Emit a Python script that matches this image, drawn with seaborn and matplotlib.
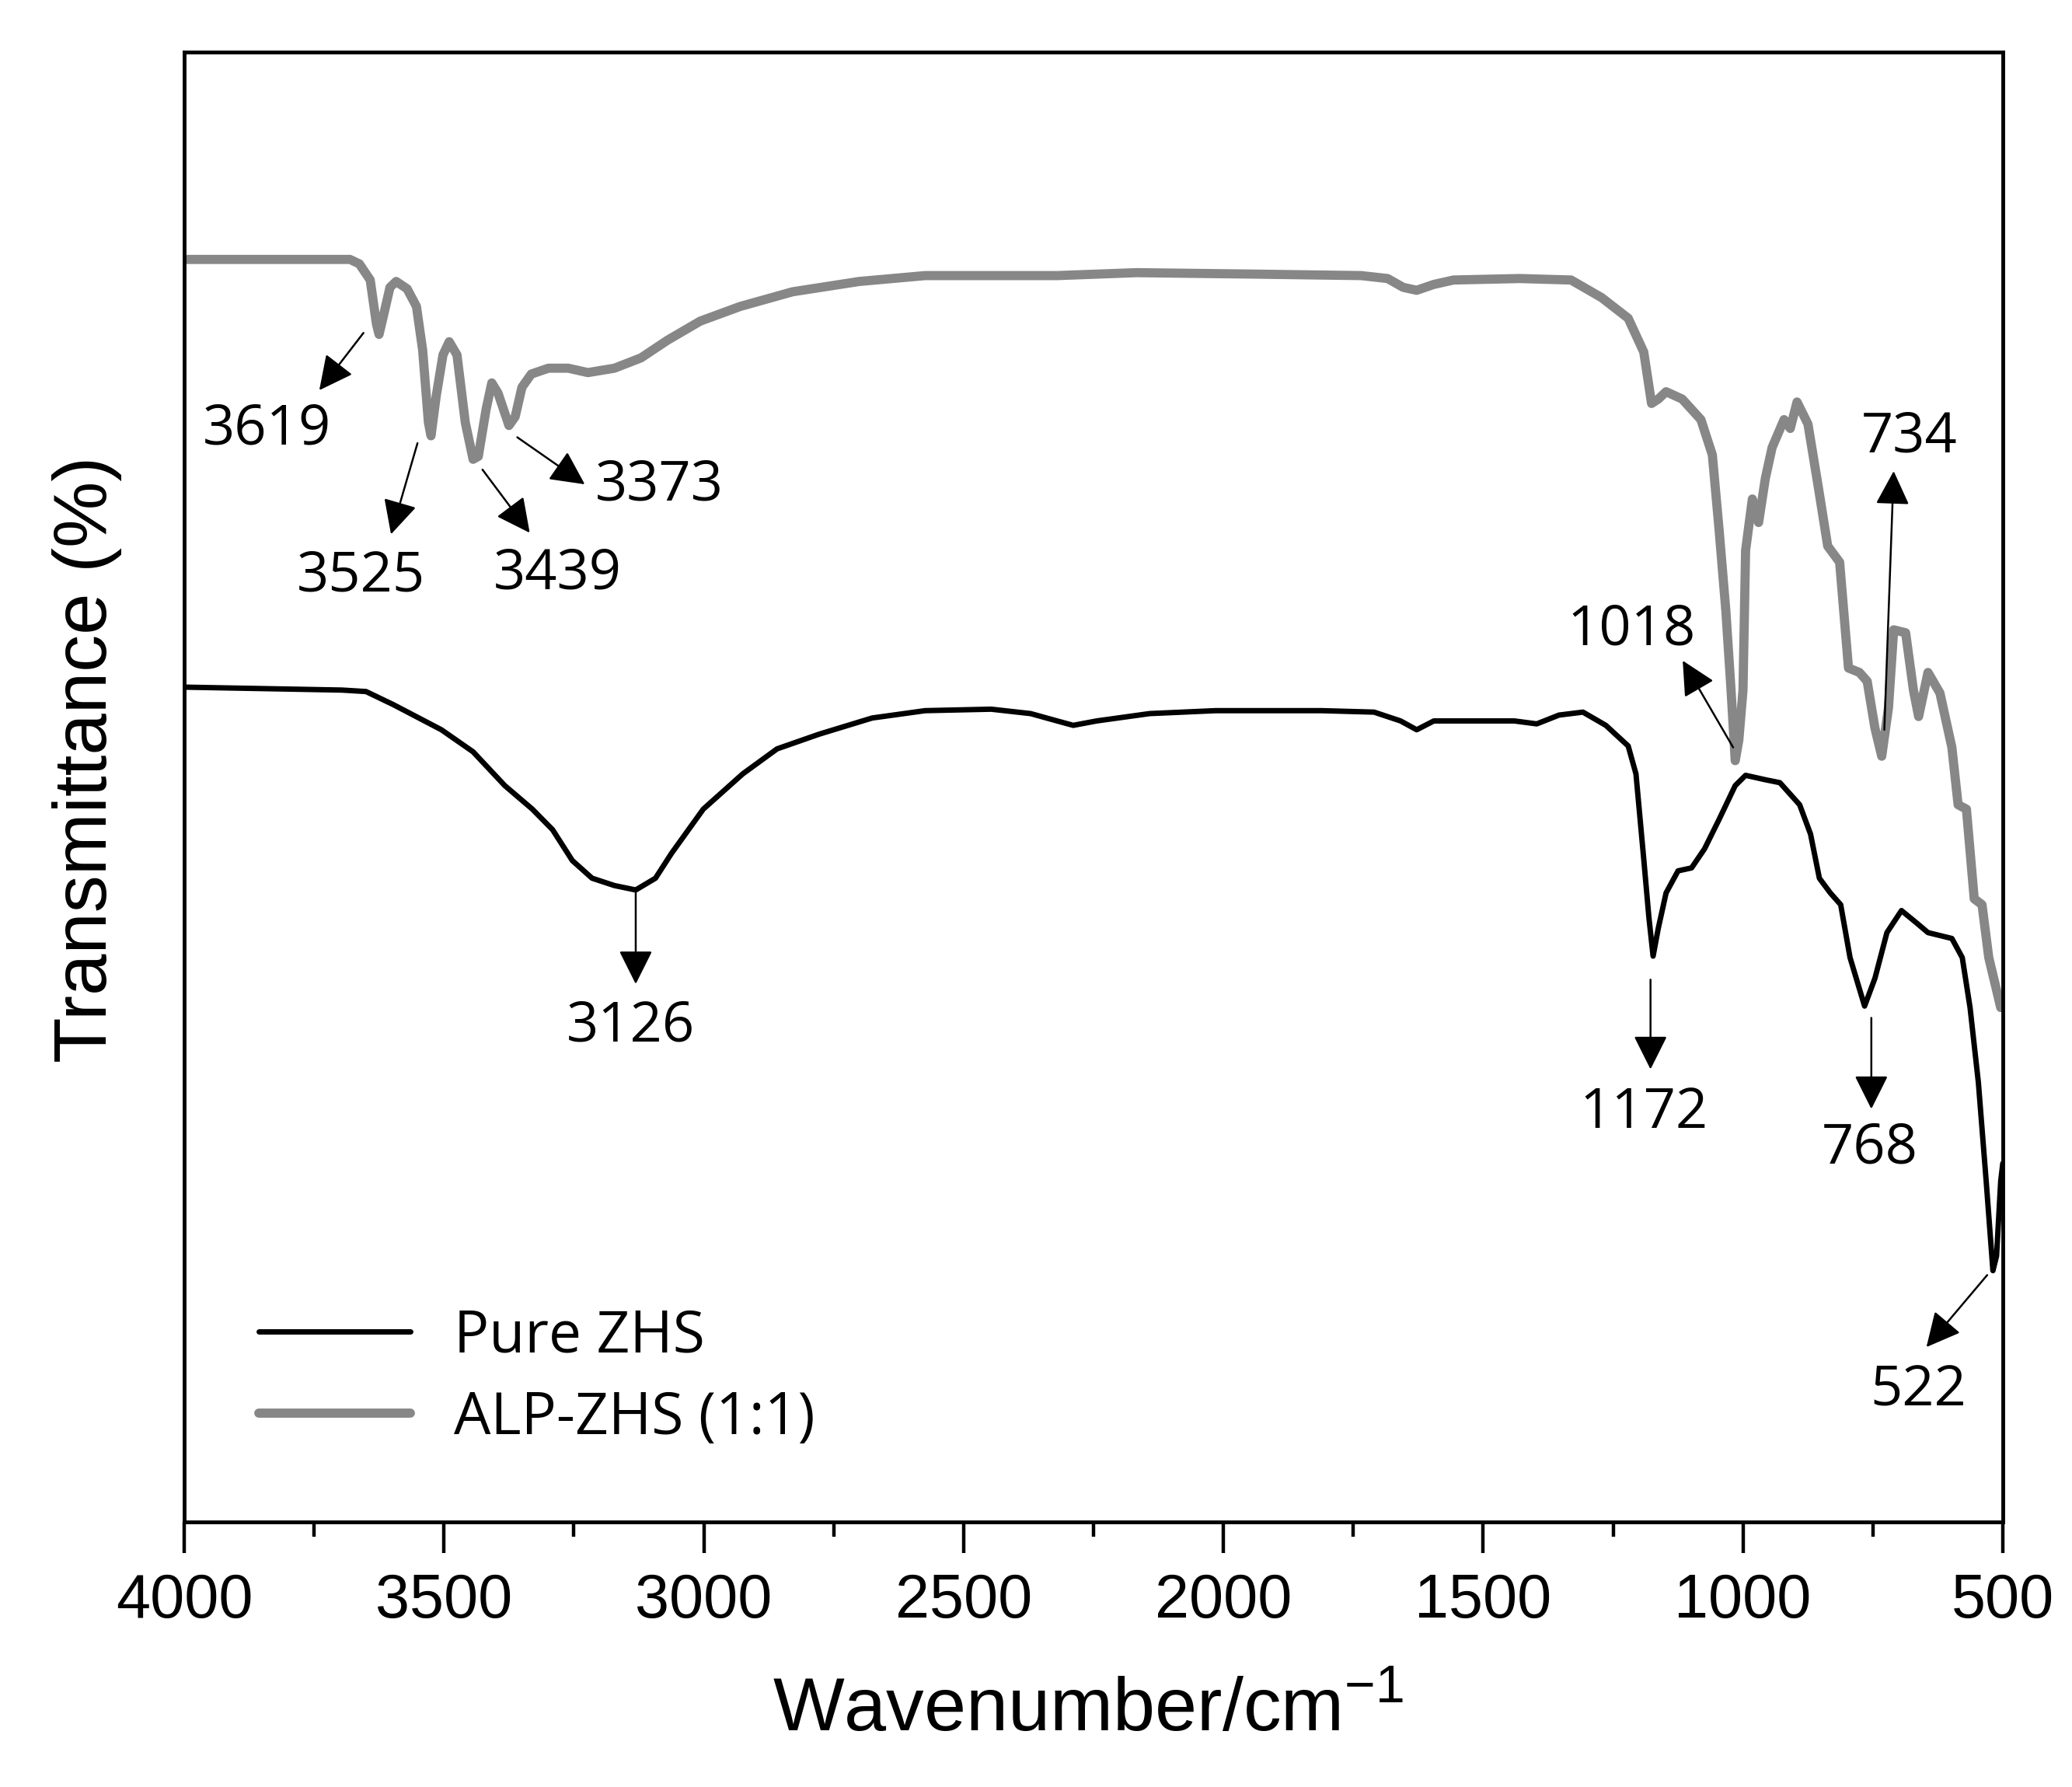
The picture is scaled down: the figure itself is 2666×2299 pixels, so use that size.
import numpy as np
import pandas as pd
import matplotlib
matplotlib.use("Agg")
import matplotlib.pyplot as plt
import seaborn as sns

# FTIR spectra (wavenumber in cm-1, transmittance in arbitrary %)
pure_wn = [4000, 3696, 3650, 3597, 3505, 3444, 3383, 3330, 3291, 3253, 3215, 3172,
           3131, 3093, 3062, 3001, 2925, 2859, 2778, 2676, 2574, 2447, 2371, 2320,
           2289, 2244, 2142, 2015, 1811, 1710, 1659, 1628, 1595, 1514, 1440, 1397,
           1354, 1308, 1264, 1221, 1206, 1191, 1181, 1173, 1163, 1148, 1125, 1099,
           1074, 1046, 1015, 995, 957, 929, 891, 870, 853, 832, 812, 794, 766, 746,
           723, 695, 664, 644, 598, 578, 563, 547, 532, 519, 512, 504, 500]
pure_t = [56.8, 56.6, 56.5, 55.6, 53.9, 52.4, 50.1, 48.5, 47.1, 45.0, 43.8, 43.3,
          43.0, 43.8, 45.5, 48.5, 50.9, 52.6, 53.6, 54.7, 55.2, 55.3, 55.0, 54.5,
          54.2, 54.5, 55.0, 55.2, 55.2, 55.1, 54.5, 53.9, 54.5, 54.5, 54.5, 54.3,
          54.9, 55.1, 54.2, 52.8, 50.9, 45.1, 41.1, 38.5, 40.4, 42.8, 44.3, 44.5,
          45.8, 47.8, 50.1, 50.8, 50.5, 50.3, 48.8, 46.8, 43.8, 42.8, 42.0, 38.4,
          35.1, 37.0, 40.1, 41.6, 40.7, 40.1, 39.7, 38.4, 35.0, 29.9, 23.2, 17.1,
          18.1, 23.2, 24.4]

alp_wn = [4000, 3681, 3663, 3642, 3630, 3625, 3617, 3604, 3592, 3571, 3553, 3541,
          3530, 3525, 3515, 3502, 3490, 3475, 3459, 3444, 3434, 3419, 3408, 3396,
          3375, 3363, 3350, 3332, 3299, 3261, 3223, 3172, 3121, 3070, 3007, 2930,
          2829, 2701, 2574, 2320, 2167, 1938, 1735, 1684, 1654, 1628, 1595, 1557,
          1430, 1331, 1272, 1221, 1191, 1176, 1163, 1148, 1117, 1081, 1059, 1046,
          1033, 1023, 1015, 1008, 1000, 995, 982, 970, 957, 944, 921, 909, 896,
          875, 855, 837, 814, 797, 776, 761, 746, 733, 720, 710, 687, 672, 662,
          644, 621, 598, 586, 570, 555, 540, 527, 504]
alp_t = [85.9, 85.9, 85.6, 84.5, 81.5, 80.8, 82.0, 84.0, 84.4, 83.9, 82.7, 79.7,
         74.8, 73.9, 76.6, 79.4, 80.3, 79.4, 74.8, 72.3, 72.5, 75.7, 77.5, 76.8,
         74.6, 75.2, 77.2, 78.1, 78.5, 78.5, 78.2, 78.5, 79.2, 80.4, 81.7, 82.7,
         83.7, 84.4, 84.8, 84.8, 85.0, 84.9, 84.8, 84.6, 84.0, 83.8, 84.2, 84.5,
         84.6, 84.5, 83.3, 81.9, 79.6, 76.1, 76.4, 76.9, 76.4, 75.0, 72.6, 67.5,
         62.0, 56.6, 51.8, 53.2, 56.6, 66.1, 69.6, 68.0, 71.0, 73.1, 75.0, 74.4,
         76.2, 74.7, 70.4, 66.4, 65.3, 58.1, 57.8, 57.2, 54.0, 52.1, 55.4, 60.7,
         60.5, 56.6, 54.8, 57.8, 56.4, 52.7, 48.8, 48.5, 42.4, 42.0, 38.4, 35.0]

series_names = ["Pure ZHS", "ALP-ZHS (1:1)"]

# peak labels: (label, arrow tail, arrow head, text position, horizontal alignment)
peak_labels = ["3619", "3525", "3439", "3373", "3126", "1018", "734", "1172", "768", "522"]
arrow_tail = [(3655, 80.9), (3551, 73.4), (3426, 71.6), (3359, 73.8), (3131, 42.8),
              (1019, 52.7), (728, 53.9), (1178, 36.9), (753, 34.3), (530, 16.8)]
arrow_head = [(3740, 77.0), (3602, 67.2), (3335, 67.3), (3229, 70.6), (3131, 36.6),
              (1116, 58.6), (710, 71.5), (1178, 30.8), (753, 28.1), (647, 11.9)]
text_pos = [(3840, 74.3), (3660, 64.3), (3281, 64.5), (3209, 70.5), (3141, 33.7),
            (1215, 60.7), (680, 73.8), (1191, 27.8), (756, 25.4), (662, 8.9)]
text_ha = ["center", "center", "center", "left", "center",
           "center", "center", "center", "center", "center"]

df = pd.concat([
    pd.DataFrame({"wn": pure_wn, "T": pure_t, "sample": series_names[0]}),
    pd.DataFrame({"wn": alp_wn, "T": alp_t, "sample": series_names[1]}),
])

sns.set_style("ticks")
plt.rcParams["font.family"] = ["Liberation Sans", "DejaVu Sans"]
plt.rcParams["mathtext.fontset"] = "custom"
plt.rcParams["mathtext.rm"] = "Liberation Sans"
plt.rcParams["mathtext.it"] = "Liberation Sans"
plt.rcParams["text.color"] = "black"
plt.rcParams["axes.labelcolor"] = "black"
plt.rcParams["xtick.color"] = "black"
plt.rcParams["xtick.labelcolor"] = "black"

fig = plt.figure(figsize=(26.66, 22.99), dpi=100)
ax = fig.add_axes([0.0889, 0.1483, 0.8777, 0.8225])

line_kw = dict(estimator=None, ax=ax, solid_joinstyle="round", solid_capstyle="round")
sns.lineplot(data=df[df["sample"] == series_names[0]], x="wn", y="T", color="black",
             lw=5, label=series_names[0], **line_kw)
sns.lineplot(data=df[df["sample"] == series_names[1]], x="wn", y="T", color="#878787",
             lw=8.5, label=series_names[1], **line_kw)

ax.set_xlim(4000, 500)
ax.set_ylim(0, 100)
ax.set_xticks(np.arange(500, 4001, 500))
ax.set_xticks(np.arange(500, 4001, 250), minor=True)
ax.set_yticks([])
ax.tick_params(axis="x", which="major", direction="out", length=29, width=3.2,
               pad=18, labelsize=57, colors="black")
ax.tick_params(axis="x", which="minor", direction="out", length=14, width=3.2,
               colors="black")
for s in ax.spines.values():
    s.set_linewidth(3.5)
    s.set_color("black")

ax.set_xlabel("Wavenumber/cm$^{-1}$", fontsize=70, color="black")
ax.set_ylabel("Transmittance (%)", fontsize=69, color="black")
ax.xaxis.set_label_coords(0.497, -0.105)
ax.yaxis.set_label_coords(-0.034, 0.519)

ann_font = ["Open Sans", "DejaVu Sans"]
for lab, tail, head, tp, ha in zip(peak_labels, arrow_tail, arrow_head, text_pos, text_ha):
    ax.annotate("", xy=head, xytext=tail,
                arrowprops=dict(arrowstyle="-|>,head_length=0.4,head_width=0.2",
                                mutation_scale=68, lw=1.8, color="black",
                                shrinkA=0, shrinkB=0))
    ax.text(tp[0], tp[1], lab, ha=ha, va="center", fontsize=52, family=ann_font,
            color="black")

leg = ax.legend(loc="center left", bbox_to_anchor=(0.041, 0.098), frameon=False,
                borderpad=0, borderaxespad=0, handlelength=2.6, handletextpad=0.75,
                labelspacing=0.4, prop={"family": ann_font, "size": 54})
for t in leg.get_texts():
    t.set_color("black")

fig.savefig("out.png", dpi=100)
